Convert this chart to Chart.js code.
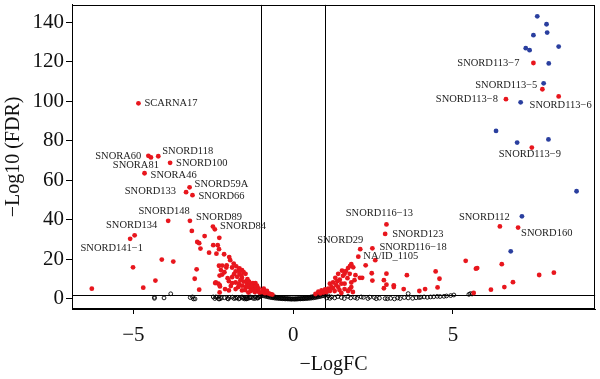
<!DOCTYPE html>
<html>
<head>
<meta charset="utf-8">
<script src="https://cdn.jsdelivr.net/npm/chart.js@4/dist/chart.umd.min.js"></script>
<style>
html,body{margin:0;padding:0;background:#fff;}
#wrap{width:600px;height:379px;position:relative;}
</style>
</head>
<body>
<div id="wrap"><canvas id="c" width="600" height="379"></canvas></div>
<script>
// ---------- DATA ----------
const xTicks = [-5, 0, 5];
const yTicks = [0, 20, 40, 60, 80, 100, 120, 140];
const fcCut = 1;
const fdrCut = 2;

// labelled snoRNAs
const labText = ["SCARNA17","SNORA60","SNORA81","SNORD118","SNORD100","SNORA46","SNORD59A","SNORD133","SNORD66",
  "SNORD148","SNORD89","SNORD84","SNORD134","SNORD141\u22121",
  "SNORD116\u221213","SNORD123","SNORD116\u221218","SNORD29","NA/ID_1105","SNORD112","SNORD160",
  "SNORD113\u22127","SNORD113\u22125","SNORD113\u22128","SNORD113\u22126","SNORD113\u22129"];
const labX = [-4.84,-4.53,-4.45,-4.22,-3.85,-4.65,-3.24,-3.35,-3.15,
  -3.91,-3.23,-2.51,-4.96,-5.01,
  2.92,2.88,2.48,2.10,2.04,6.47,7.04,
  7.52,7.80,6.66,8.31,7.47];
const labY = [99.0,72.4,71.6,72.2,68.9,63.6,56.5,54.0,52.5,
  39.5,39.5,36.6,32.2,16.0,
  37.7,32.9,25.6,25.2,21.4,36.7,36.1,
  119.4,106.1,101.1,102.5,76.6];

// other significant (red) points
const redX = [-5.10,-4.11,-3.75,-6.30,-4.31,-4.69,-3.17,-3.00,-2.94,-2.90,-2.77,-2.63,-3.02,-3.08,-2.94,
  -2.45,-2.31,-2.50,-2.36,-2.40,-2.32,-2.16,-2.00,-1.97,-1.86,-2.22,-2.09,-2.26,-1.91,-1.80,-1.70,-1.60,
  -1.68,-1.60,-1.49,-1.43,-1.91,-2.01,-1.80,-1.70,-1.60,-1.39,-1.26,-1.18,-1.13,-1.22,-1.08,-1.29,-1.49,
  -1.91,-2.42,-2.30,-2.30,-2.13,-2.01,-1.80,-1.60,-1.33,-2.32,-2.22,-2.34,-2.30,-2.29,-2.44,
  -1.45,-1.35,-1.30,-1.25,-1.15,-1.10,-1.05,-1.20,-1.40,-1.50,-1.55,-1.65,-1.75,-1.85,-1.55,-1.62,-1.45,
  -1.38,-1.72,-1.95,-2.05,-2.15,-2.08,-1.78,-1.68,
  -0.95,-0.90,-0.85,-0.80,-0.75,-0.70,-0.92,-0.88,-0.97,-0.82,-0.65,
  2.57,2.27,2.46,2.92,2.09,2.16,2.48,2.84,2.92,2.84,3.15,3.15,3.56,3.46,3.95,4.13,4.46,4.58,4.52,5.40,
  5.72,5.76,5.65,6.19,6.53,6.61,6.88,7.70,8.16,
  1.53,1.72,1.82,1.78,1.61,1.41,1.56,1.77,1.82,1.82,1.77,1.61,1.46,1.32,1.25,1.15,1.20,1.10,1.41,1.51,
  1.61,1.30,1.15,1.04,0.89,0.79,1.72,1.87,1.51,1.65,1.88,1.70,1.38,1.35,1.25,1.45,1.92,1.95,0.95,1.00,
  0.85,0.70];
const redY = [30.4,19.9,18.9,5.2,9.3,5.7,34.4,28.8,28.2,25.5,31.8,23.4,15.0,10.2,4.7,
  35.2,30.9,27.2,27.2,22.9,25.2,22.6,21.2,19.6,17.9,16.9,15.9,14.6,15.9,13.9,14.3,14.6,
  12.7,10.7,12.7,10.0,11.0,9.0,8.3,7.7,6.7,6.0,8.0,8.0,6.7,6.0,5.3,5.0,6.0,
  8.0,8.3,7.0,3.3,5.0,4.3,5.0,4.3,4.0,16.8,12.3,7.7,11.8,6.3,8.0,
  7.5,7.2,6.5,4.5,4.8,3.8,3.2,3.5,3.2,4.5,8.8,9.5,11.2,12.5,13.5,11.8,9.0,
  8.8,6.0,6.5,10.5,13.5,17.0,16.5,15.5,
  4.5,3.8,3.4,3.0,2.7,2.4,5.2,2.9,3.4,4.0,2.2,
  19.6,17.0,13.0,12.8,10.7,10.7,9.3,9.5,7.2,5.4,6.9,6.0,12.0,5.0,4.0,5.0,13.9,10.2,5.8,19.3,
  15.3,15.6,3.0,4.7,17.6,6.0,8.5,12.1,13.3,
  14.3,15.6,17.6,16.6,12.7,12.7,11.7,12.7,8.3,6.0,5.0,7.7,9.7,10.7,8.3,7.7,6.0,5.2,6.0,7.7,
  5.0,4.0,4.0,3.5,4.3,3.7,4.0,3.5,3.0,14.0,16.0,10.5,9.0,7.0,5.5,4.5,9.5,12.0,3.2,4.8,
  2.8,2.5];

// highlighted (blue) points
const blueX = [7.64,7.93,7.95,7.52,8.31,7.28,7.40,8.00,7.84,7.12,6.35,7.01,7.99,8.87,7.16,6.81];
const blueY = [143.0,139.0,134.8,133.5,127.7,126.9,125.9,119.2,109.1,99.5,85.0,79.1,80.7,54.5,41.8,24.1];

// non-significant (open black) points
const nsX = [-4.34,-4.34,-4.04,-3.83,-3.22,-3.12,-3.15,-3.07,-2.50,-2.45,-2.42,-2.33,-2.30,-2.05,-2.03,-1.70,-1.68,
  -1.54,-1.52,-1.48,-1.47,-1.34,-1.30,-1.18,-1.10,-1.05,-1.40,-1.60,-1.25,-2.15,-1.90,-1.80,
  -1.02,-1.07,-1.12,-1.20,-1.35,-1.45,-1.58,-1.75,-1.85,-2.00,-2.25,-2.38,
  -1.00,-0.95,-0.90,-0.85,-0.80,-0.75,-0.70,-0.65,-0.60,-0.55,-0.50,-0.45,-0.40,-0.35,-0.30,-0.25,-0.20,
  -0.15,-0.10,-0.05,0.00,0.05,0.10,0.15,0.20,0.25,0.30,0.35,0.40,0.45,0.50,0.55,0.60,0.65,0.70,0.75,0.80,
  0.85,0.90,0.95,1.00,
  -0.98,-0.93,-0.88,-0.83,-0.78,-0.73,-0.68,-0.63,-0.58,-0.53,-0.48,-0.43,-0.38,-0.33,-0.28,-0.23,-0.18,
  -0.13,-0.08,-0.03,0.03,0.08,0.13,0.18,0.23,0.28,0.33,0.38,0.43,0.48,0.53,0.58,0.63,0.68,0.73,0.78,0.83,
  0.88,0.93,0.98,
  1.20,1.51,1.72,1.93,2.13,2.34,2.54,2.88,3.17,3.27,3.48,3.74,3.95,4.10,4.30,4.51,4.72,4.93,5.03,5.55,
  3.60,5.50,1.05,1.10,1.15,1.30,1.40,1.60,1.80,2.00,2.20,2.40,2.60,2.70,2.95,3.05,3.35,3.60,3.85,4.00,
  4.20,4.40,4.60,4.80,5.60];
const nsY = [0.8,0.3,0.5,2.6,0.7,0.0,1.0,0.0,1.0,0.2,1.0,0.0,0.0,0.2,0.0,0.0,0.3,
  0.7,0.0,0.7,0.0,1.0,0.8,1.0,0.5,1.2,0.3,1.0,0.3,0.6,0.9,0.4,
  1.5,1.0,0.4,0.2,0.6,0.1,0.4,0.7,0.2,0.8,0.4,0.9,
  3.0,2.7,2.4,2.1,1.9,1.7,1.5,1.3,1.1,0.95,0.8,0.65,0.55,0.45,0.35,0.25,0.2,
  0.15,0.1,0.05,0.05,0.05,0.1,0.15,0.2,0.25,0.35,0.45,0.55,0.65,0.8,0.95,1.1,1.3,1.5,1.7,1.9,
  2.1,2.4,2.7,3.0,
  1.8,1.6,1.4,1.2,1.0,0.85,0.7,0.55,0.45,0.35,0.3,0.2,0.15,0.1,0.05,0.0,0.0,
  -0.05,-0.1,-0.1,-0.1,-0.1,-0.05,0.0,0.0,0.05,0.1,0.15,0.2,0.3,0.35,0.45,0.55,0.7,0.85,1.0,1.2,
  1.4,1.6,1.8,
  1.0,0.7,1.3,0.7,1.0,0.2,0.7,0.2,0.0,0.5,0.7,0.3,0.7,1.0,1.0,1.3,1.3,1.7,2.0,2.7,
  2.7,2.3,0.5,1.5,0.3,0.5,1.2,0.2,0.5,0.3,0.8,0.9,0.1,0.4,0.1,0.3,0.2,0.5,0.6,0.9,
  0.8,1.1,1.2,1.5,2.5];

// ---------- STYLE ----------
const RED = "#e8161d", BLUE = "#2a3f9f";
const SERIF = "'Liberation Serif','DejaVu Serif',serif";
// label placement: [dx, dy, align] in pixels relative to its point
const labPos = [[6,0,"left"],[-7,0,"right"],[8,8,"right"],[4,-5,"left"],[6,0,"left"],[6,2,"left"],[5,-3,"left"],[-10,-1,"right"],[6,1,"left"],
  [-4,-10,"center"],[6,-4,"left"],[7,0,"left"],[-3,-10,"center"],[10,-19,"right"],
  [-7,-11,"center"],[7,0,"left"],[7,-1,"left"],[3,-9,"right"],[5,0,"left"],[10,-9,"right"],[3,6,"left"],
  [-14,0,"right"],[-5,-4,"right"],[-8,0,"right"],[2,9,"center"],[-2,7,"center"]];

const zip = (xs, ys) => xs.map((x, i) => ({x: x, y: ys[i]}));

const framePlugin = {
  id: "frame",
  beforeDatasetsDraw(chart) {
    const {ctx, chartArea: a, scales: {x, y}} = chart;
    ctx.save();
    ctx.strokeStyle = "#000";
    ctx.lineWidth = 1;
    ctx.beginPath();
    [-fcCut, fcCut].forEach(v => {
      const px = Math.round(x.getPixelForValue(v)) + 0.5;
      ctx.moveTo(px, a.top); ctx.lineTo(px, a.bottom);
    });
    const py = Math.round(y.getPixelForValue(fdrCut)) + 0.5;
    ctx.moveTo(a.left, py); ctx.lineTo(a.right, py);
    ctx.stroke();
    ctx.restore();
  },
  afterDatasetsDraw(chart) {
    const {ctx, chartArea: a, scales: {x, y}} = chart;
    ctx.save();
    ctx.font = "10.5px " + SERIF;
    ctx.fillStyle = "#222";
    ctx.textBaseline = "middle";
    labText.forEach((t, i) => {
      const p = labPos[i];
      ctx.textAlign = p[2];
      ctx.fillText(t, x.getPixelForValue(labX[i]) + p[0], y.getPixelForValue(labY[i]) + p[1]);
    });
    ctx.strokeStyle = "#000";
    ctx.lineWidth = 1;
    ctx.strokeRect(Math.round(a.left) + 0.5, Math.round(a.top) + 0.5, Math.round(a.right - a.left) - 1, Math.round(a.bottom - a.top) - 1);
    ctx.restore();
  }
};

new Chart(document.getElementById("c"), {
  type: "scatter",
  data: {
    datasets: [
      {label: "up", data: zip(blueX, blueY), backgroundColor: BLUE, borderWidth: 0, pointRadius: 2.4},
      {label: "sig", data: zip(redX.concat(labX), redY.concat(labY)), backgroundColor: RED, borderWidth: 0, pointRadius: 2.4},
      {label: "ns", data: zip(nsX, nsY), backgroundColor: "rgba(0,0,0,0)", borderColor: "#000", borderWidth: 0.9, pointRadius: 1.9}
    ]
  },
  plugins: [framePlugin],
  options: {
    responsive: false,
    animation: false,
    events: [],
    layout: {padding: {top: 0, right: 1, bottom: 0, left: 0}},
    plugins: {legend: {display: false}, tooltip: {enabled: false}},
    scales: {
      x: {
        type: "linear", min: -6.92, max: 9.45,
        afterBuildTicks: s => { s.ticks = xTicks.map(v => ({value: v})); },
        afterFit: s => { s.height = 70; s.paddingLeft = 0; s.paddingRight = 0; },
        grid: {display: true, drawOnChartArea: false, drawTicks: true, tickLength: 5, color: "#000"},
        border: {display: true, color: "#000"},
        ticks: {color: "#111", font: {family: SERIF, size: 21}, padding: 9, maxRotation: 0,
                callback: v => (v < 0 ? "\u2212" + Math.abs(v) : "" + v)},
        title: {display: true, text: "\u2212LogFC", color: "#111", font: {family: SERIF, size: 20}, padding: {top: 0, bottom: 2}}
      },
      y: {
        type: "linear", min: -5.1, max: 148.8,
        afterBuildTicks: s => { s.ticks = yTicks.map(v => ({value: v})); },
        afterFit: s => { s.width = 72; s.paddingTop = 0; s.paddingBottom = 0; },
        grid: {display: true, drawOnChartArea: false, drawTicks: true, tickLength: 6, color: "#000"},
        border: {display: true, color: "#000"},
        ticks: {color: "#111", font: {family: SERIF, size: 21}, padding: 2},
        title: {display: true, text: "\u2212Log10 (FDR)", color: "#111", font: {family: SERIF, size: 20}, padding: {top: 2, bottom: 0}}
      }
    }
  }
});
</script>
</body>
</html>
